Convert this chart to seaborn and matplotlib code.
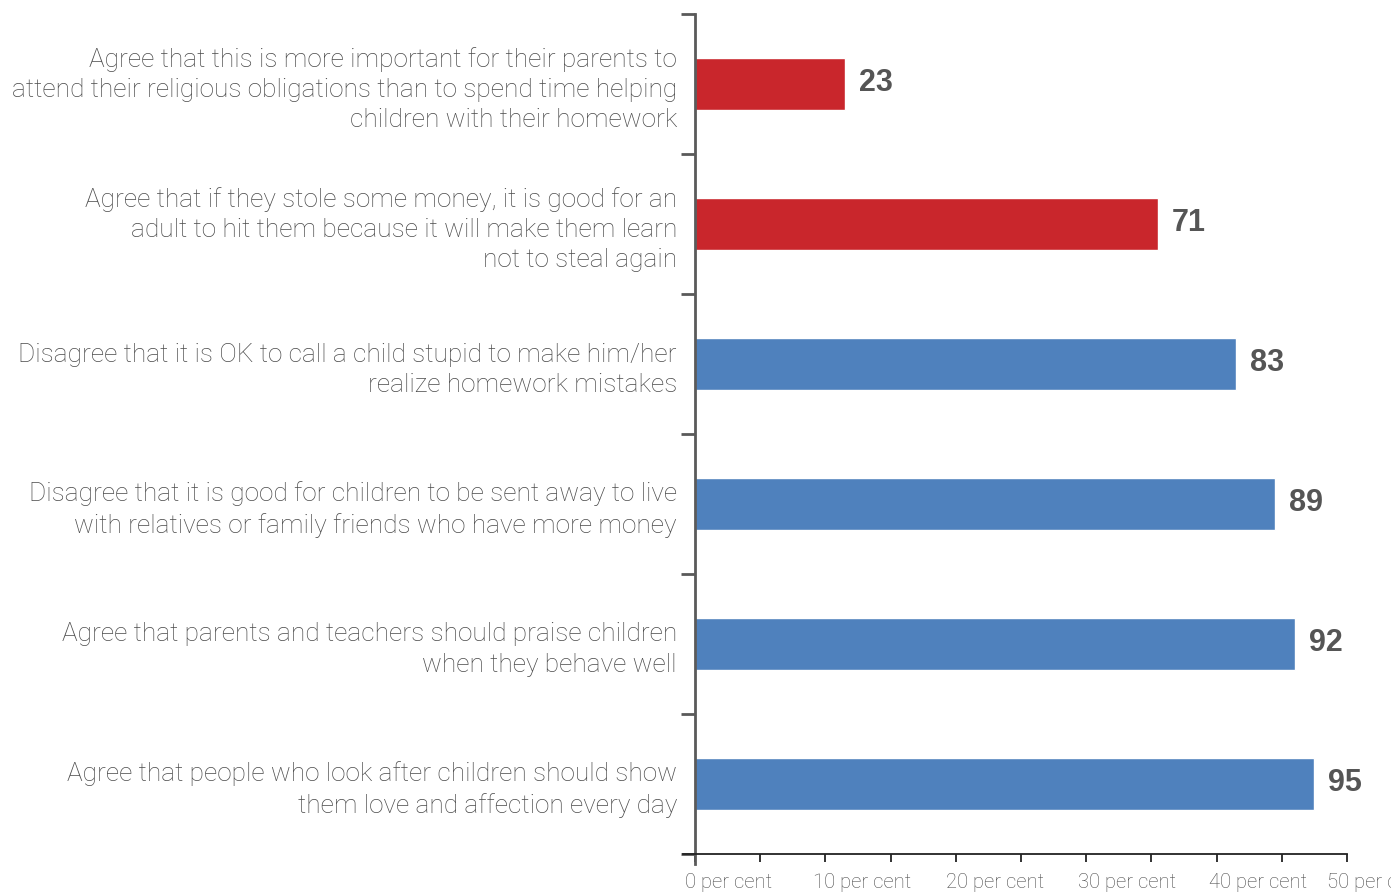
import matplotlib
matplotlib.use("Agg")
import matplotlib.pyplot as plt
import seaborn as sns
import numpy as np
import pandas as pd

# Survey statements (one per bar) and the share of children who answered that way
statements = [
    "Agree that this is more important for their parents to\nattend their religious obligations than to spend time helping\nchildren with their homework",
    "Agree that if they stole some money, it is good for an\nadult to hit them because it will make them learn\nnot to steal again",
    "Disagree that it is OK to call a child stupid to make him/her\nrealize homework mistakes",
    "Disagree that it is good for children to be sent away to live\nwith relatives or family friends who have more money",
    "Agree that parents and teachers should praise children\nwhen they behave well",
    "Agree that people who look after children should show\nthem love and affection every day",
]
values = [23, 71, 83, 89, 92, 95]
attitude = ["negative", "negative", "positive", "positive", "positive", "positive"]
axis_labels = ["0 per cent", "10 per cent", "20 per cent", "30 per cent", "40 per cent", "50 per cent"]

palette = {"negative": "#C9262C", "positive": "#4F81BD"}
text_color = "#4a4a4a"

sns.set_style("white")
plt.rcParams["font.family"] = ["Roboto", "DejaVu Sans"]

df = pd.DataFrame({"statement": statements, "value": values, "attitude": attitude})

fig = plt.figure(figsize=(13.91, 8.93), dpi=100)
ax = fig.add_axes([0.4996, 0.0437, 0.4688, 0.9406])

sns.barplot(data=df, x="value", y="statement", hue="attitude", palette=palette,
            dodge=False, width=0.37, legend=False, ax=ax, saturation=1)

ax.set_xlim(0, 100)
ax.set_ylim(5.5, -0.5)
ax.set_xlabel("")
ax.set_ylabel("")

# value labels to the right of each bar
for i, v in enumerate(values):
    ax.annotate(str(v), xy=(v, i), xytext=(10, 1), textcoords="offset points",
                ha="left", va="center", fontsize=22, fontweight="bold",
                color="#555555", family=["Liberation Sans", "DejaVu Sans"])

# category labels sit on minor ticks; major ticks mark the category boundaries
ax.set_yticks(np.arange(-0.5, 6.0, 1.0))
ax.set_yticklabels([])
ax.set_yticks(np.arange(len(statements)), minor=True)
ax.set_yticklabels(statements, minor=True, fontsize=18.9, color=text_color,
                   fontweight="light", linespacing=1.32)
ax.tick_params(axis="y", which="major", direction="out", length=10, width=2,
               color="#5a5a5a", left=True)
ax.tick_params(axis="y", which="minor", length=0, pad=13, left=True)

ax.set_xticks(np.arange(0, 101, 10))
ax.set_xticklabels([])
ax.tick_params(axis="x", which="major", direction="out", length=6, width=1.3,
               color="#222222", bottom=True)

# axis captions placed every other tick, between marks
label_pos = [5.2, 25.6, 46.0, 66.3, 86.3, 104.5]
for xp, lab in zip(label_pos, axis_labels):
    ax.text(xp, -0.023, lab, transform=ax.get_xaxis_transform(), ha="center",
            va="top", fontsize=14.6, color=text_color, fontweight="light",
            clip_on=False)

for side in ["top", "right"]:
    ax.spines[side].set_visible(False)
ax.spines["left"].set_color("#5a5a5a")
ax.spines["left"].set_linewidth(2)
ax.spines["left"].set_bounds(5.57, -0.5)
ax.spines["bottom"].set_color("#222222")
ax.spines["bottom"].set_linewidth(1.3)
ax.spines["bottom"].set_bounds(-1.8, 100)

fig.savefig("out.png", dpi=100)
